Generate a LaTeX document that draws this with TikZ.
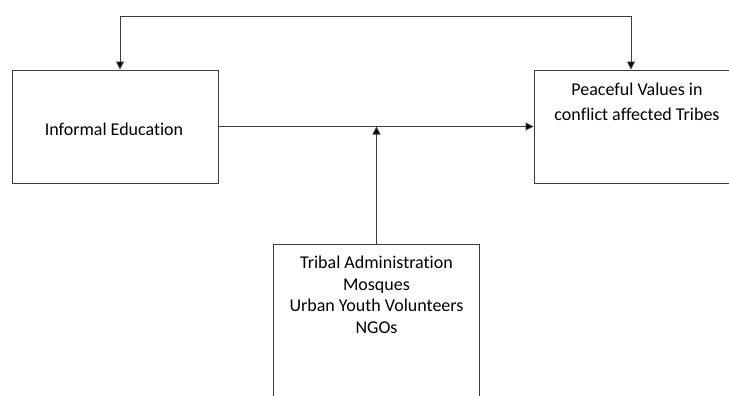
\documentclass[tikz,border=0pt]{standalone}
\usepackage{fontspec}
\setmainfont{Carlito}[Ligatures=NoCommon]
\usetikzlibrary{arrows.meta,positioning}
\definecolor{edgegray}{RGB}{60,60,60}

\begin{document}
\begin{tikzpicture}[x=0.75pt,y=-0.75pt,
        box/.style={draw=edgegray, line width=0.7pt, minimum width=154.5pt, minimum height=84.75pt},
        boxtext/.style={align=center, font=\fontsize{13.5}{16.3}\selectfont, inner sep=0pt},
        flow/.style={-{Triangle[length=6pt,width=6pt,fill=black]}, draw=edgegray, line width=0.7pt}
      ]
      \useasboundingbox (0,0) rectangle (729,396);
      \clip (0,0) rectangle (729,396);

      \node[box] (edu) at (115,126.5) {};
      \node[boxtext] (edutext) at (114,129) {Informal Education};
      \node[box] (peace) at (637,126.5) {};
      \node[boxtext, font=\fontsize{13.5}{18.3}\selectfont, below=10pt of peace.north] (peacetext) {Peaceful Values in\\conflict affected Tribes};
      \node[box, minimum height=127.5pt] (actors) at (376.5,329) {};
      \node[boxtext, below=9pt of actors.north] (actorstext) {Tribal Administration\\Mosques\\Urban Youth Volunteers\\NGOs};

      \coordinate (topl) at (120,16);
      \coordinate (topr) at (631,16);
      \draw[edgegray, line width=0.7pt] (topl) -- (topr);
      \draw[flow] (topl) -- (topl |- edu.north);
      \draw[flow] (topr) -- (topr |- peace.north);
      \draw[flow] (edu.east) -- (peace.west);
      \draw[flow] (actors.north) -- (actors.north |- edu.east);
    \end{tikzpicture}
\end{document}
